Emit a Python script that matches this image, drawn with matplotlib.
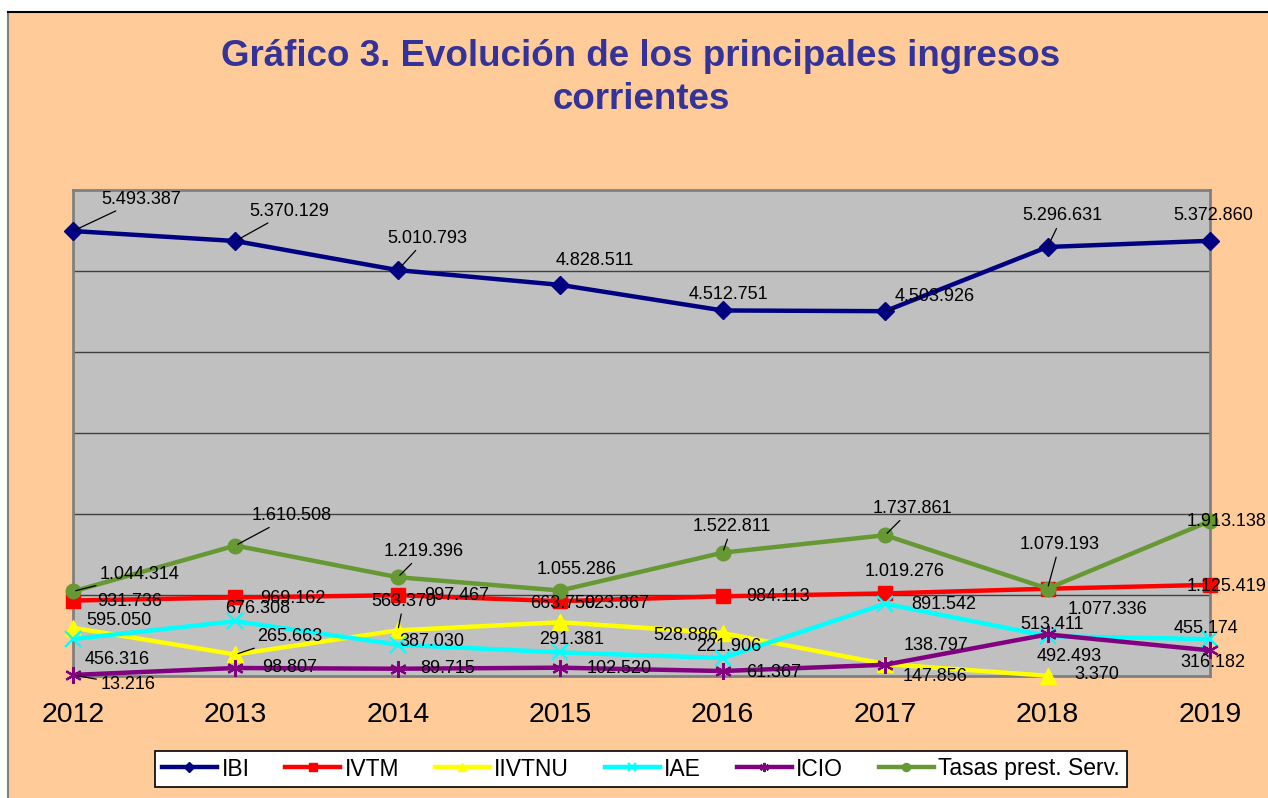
import numpy as np
import matplotlib
matplotlib.use("Agg")
import matplotlib.pyplot as plt
from matplotlib.patches import Rectangle

plt.rcParams['font.family'] = ['Liberation Sans', 'DejaVu Sans']

years = ["2012", "2013", "2014", "2015", "2016", "2017", "2018", "2019"]

ibi = [5493387, 5370129, 5010793, 4828511, 4512751, 4503926, 5296631, 5372860]
ivtm = [931736, 969162, 997467, 923867, 984113, 1019276, 1077336, 1125419]
iivtnu = [595050, 265663, 563370, 663750, 528886, 147856, 3370, np.nan]
iae = [456316, 676308, 387030, 291381, 221906, 891542, 492493, 455174]
icio = [13216, 98807, 89715, 102520, 61367, 138797, 513411, 316182]
tasas = [1044314, 1610508, 1219396, 1055286, 1522811, 1737861, 1079193, 1913138]

# label offsets in pixels (dx, dy screen-down), and whether a leader line is drawn
lab_ibi = [(68, -32, 1), (54, -30, 1), (29, -32, 1), (35, -24, 0), (6, -16, 0), (50, -15, 1), (15, -31, 1), (3, -25, 0)]
lab_ivtm = [(57, 1, 0), (57, 1, 0), (59, 0, 0), (56, 2, 0), (55, 0, 0), (19, -22, 0), (60, 21, 0), (17, 2, 0)]
lab_iivtnu = [(46, -7, 0), (54, -18, 1), (6, -29, 1), (2, -19, 0), (-37, 2, 0), (50, 12, 0), (49, -1, 0), None]
lab_iae = [(44, 20, 0), (22, -13, 0), (34, -3, 0), (11, -13, 0), (6, -12, 0), (59, 1, 0), (22, 20, 0), (-4, -11, 0)]
lab_icio = [(55, 10, 1), (54, 0, 0), (50, 0, 0), (59, 1, 0), (51, 1, 0), (51, -19, 0), (4, -10, 0), (3, 12, 0)]
lab_tasas = [(67, -17, 1), (56, -30, 1), (26, -26, 1), (16, -21, 0), (9, -26, 1), (27, -27, 1), (12, -44, 1), (17, 0, 0)]

series = [
    ("IBI", ibi, "#000080", "D", 9.5, lab_ibi),
    ("IVTM", ivtm, "#FF0000", "s", 10, lab_ivtm),
    ("IIVTNU", iivtnu, "#FFFF00", "^", 11, lab_iivtnu),
    ("IAE", iae, "#00FFFF", "x", 11, lab_iae),
    ("ICIO", icio, "#800080", (6, 2, 0), 12, lab_icio),
    ("Tasas prest. Serv.", tasas, "#669933", "o", 10.5, lab_tasas),
]

def fmt(v):
    return f"{int(v):,}".replace(",", ".")

fig = plt.figure(figsize=(12.68, 7.98), dpi=100, facecolor="white")
# peach chart area, white margin at top/left
bg = Rectangle((8 / 1268, 0), 1, 1 - 12 / 798, transform=fig.transFigure,
               facecolor="#FFCC99", edgecolor="none", zorder=-10)
fig.add_artist(bg)
fig.add_artist(plt.Line2D([8 / 1268, 8 / 1268], [0, 1 - 12 / 798], color="#808080", lw=1.5))
fig.add_artist(plt.Line2D([8 / 1268, 1], [1 - 12 / 798, 1 - 12 / 798], color="black", lw=1.5))

ax = fig.add_axes([73 / 1268, 1 - 676 / 798, (1210 - 73) / 1268, (676 - 190) / 798])
ax.set_facecolor("#C0C0C0")

x = np.arange(len(years))
handles = []
for name, vals, col, mk, ms, labs in series:
    mew = 1.6 if mk in ("x",) or isinstance(mk, tuple) else 1
    ln, = ax.plot(x, vals, color=col, lw=3.2, marker=mk, ms=ms, mew=mew,
                  mec=col, mfc=col, clip_on=False, zorder=3, label=name)
    handles.append(ln)
    for i, v in enumerate(vals):
        if labs[i] is None or np.isnan(v):
            continue
        dx, dy, lead = labs[i]
        kw = {}
        if lead:
            kw["arrowprops"] = dict(arrowstyle="-", color="black", lw=0.9,
                                    shrinkA=1, shrinkB=2)
        ax.annotate(fmt(v), (i, v), xytext=(dx, -dy), textcoords="offset pixels",
                    ha="center", va="center", fontsize=13, color="black",
                    zorder=6, annotation_clip=False, **kw)

ax.set_xlim(0, 7)
ax.set_ylim(0, 6000000)
ax.set_yticks([1000000, 2000000, 3000000, 4000000, 5000000])
ax.yaxis.grid(True, color="#404040", lw=1)
ax.set_axisbelow(True)
ax.tick_params(axis="y", length=0, labelleft=False)
ax.set_xticks(x)
ax.set_xticklabels(years, fontsize=20.5)
ax.tick_params(axis="x", length=0, pad=19)
for s in ax.spines.values():
    s.set_color("#808080")
    s.set_linewidth(2)

fig.text(641 / 1268, 1 - 78 / 798, "Gráfico 3. Evolución de los principales ingresos\ncorrientes",
         ha="center", va="center", fontsize=26.5, fontweight="bold", color="#333399",
         linespacing=1.3)

leg = fig.legend(handles=handles, loc="center", bbox_to_anchor=(641 / 1268, 1 - 769 / 798),
                 ncol=6, fontsize=16.5, frameon=True, fancybox=False, edgecolor="black",
                 facecolor="white", framealpha=1, handlelength=2.4, columnspacing=1.55,
                 markerscale=0.55, borderpad=0.3, handletextpad=0.2)
leg.get_frame().set_linewidth(1.2)

fig.savefig("out.png", dpi=100, facecolor=fig.get_facecolor())
